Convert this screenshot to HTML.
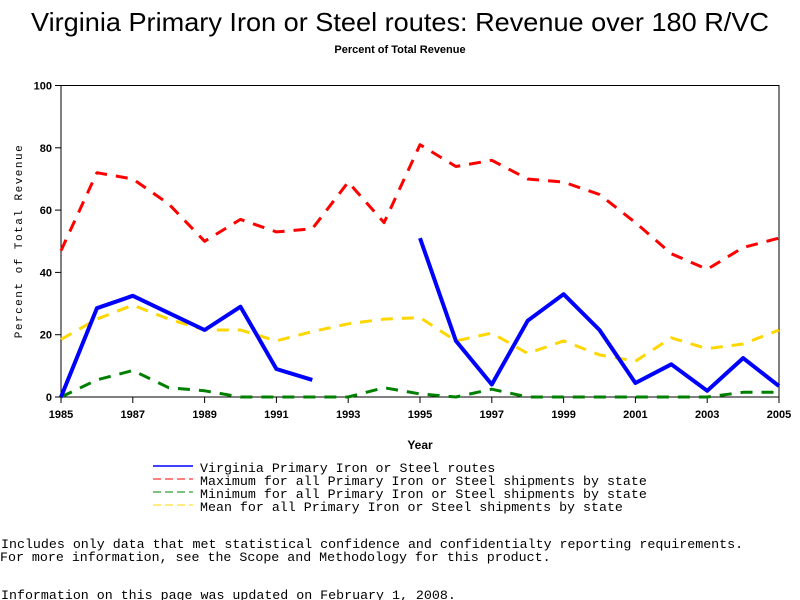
<!DOCTYPE html>
<html><head><meta charset="utf-8"><style>
body{margin:0;background:#fff;width:800px;height:600px;overflow:hidden}
svg{display:block}
text{font-family:"Liberation Sans",sans-serif}
.mono, .mono text, text.mono{font-family:"Liberation Mono",monospace}
</style></head><body>
<svg id="chart" width="800" height="600">
<text x="400" y="31" text-anchor="middle" font-size="26" textLength="738" lengthAdjust="spacingAndGlyphs">Virginia Primary Iron or Steel routes: Revenue over 180 R/VC</text>
<text x="400" y="53" text-anchor="middle" font-size="11" font-weight="bold">Percent of Total Revenue</text>
<rect x="61" y="85.5" width="718" height="311.5" fill="none" stroke="#000" stroke-width="1"/>
<g id="yticks"></g><g id="xticks"></g><g id="series"></g>
<text transform="translate(22,241) rotate(-90)" text-anchor="middle" font-size="11" class="mono" letter-spacing="1.5">Percent of Total Revenue</text>
<text x="420" y="449" text-anchor="middle" font-size="12" font-weight="bold">Year</text>
<g class="mono" font-size="13.3">
<g><line x1="153" y1="466" x2="193" y2="466" stroke="#0000ff" stroke-width="1.5"/><text x="200" y="472">Virginia Primary Iron or Steel routes</text></g>
<g><line x1="153" y1="479" x2="193" y2="479" stroke="#ff0000" stroke-width="1" stroke-dasharray="8,4"/><text x="200" y="485">Maximum for all Primary Iron or Steel shipments by state</text></g>
<g><line x1="153" y1="492" x2="193" y2="492" stroke="#008000" stroke-width="1" stroke-dasharray="8,4"/><text x="200" y="498">Minimum for all Primary Iron or Steel shipments by state</text></g>
<g><line x1="153" y1="505" x2="193" y2="505" stroke="#ffd700" stroke-width="1" stroke-dasharray="8,4"/><text x="200" y="511">Mean for all Primary Iron or Steel shipments by state</text></g>
</g>
<g class="mono" font-size="13.3">
<text x="1" y="548">Includes only data that met statistical confidence and confidentialty reporting requirements.</text>
<text x="0" y="561">For more information, see the Scope and Methodology for this product.</text>
<text x="1" y="599">Information on this page was updated on February 1, 2008.</text>
</g>
</svg>
<script>
const years = [1985,1986,1987,1988,1989,1990,1991,1992,1993,1994,1995,1996,1997,1998,1999,2000,2001,2002,2003,2004,2005];
const virginia = [0,28.5,32.5,27,21.5,29,9,5.5,null,null,51,18,4,24.5,33,21.5,4.5,10.5,2,12.5,3.5];
const maximum = [47,72,70,62,50,57,53,54,69,56,81,74,76,70,69,65,56,46,41,48,51];
const minimum = [0,5.5,8.5,3,2,0,0,0,0,3,1,0,2.5,0,0,0,0,0,0,1.5,1.5];
const mean = [18.5,25,29.5,25,21.5,21.5,18,21,23.5,25,25.5,18,20.5,14,18,13.5,11.5,19,15.5,17,21.5];
const yTickLabels = [0,20,40,60,80,100];
const xTickLabels = [1985,1987,1989,1991,1993,1995,1997,1999,2001,2003,2005];

const NS="http://www.w3.org/2000/svg";
const X0=61,X1=779,Y0=397,Y1=85.5;
const xs=y=>X0+(y-1985)/(2005-1985)*(X1-X0);
const ys=v=>Y0-v/100*(Y0-Y1);
function mk(tag,attrs,parent){const e=document.createElementNS(NS,tag);for(const k in attrs)e.setAttribute(k,attrs[k]);parent.appendChild(e);return e;}
const yt=document.getElementById('yticks');
yTickLabels.forEach(v=>{
  const l=mk('line',{x1:X0-6,x2:X0,y1:ys(v),y2:ys(v),stroke:'#000'},yt);
  
  
  const t=mk('text',{x:X0-9,y:ys(v)+4,'text-anchor':'end','font-size':'11','font-weight':'bold'},yt);
  t.textContent=v;
  
  
});
const xt=document.getElementById('xticks');
xTickLabels.forEach(v=>{
  const l=mk('line',{x1:xs(v),x2:xs(v),y1:Y0,y2:Y0+6,stroke:'#000'},xt);
  
  
  const t=mk('text',{x:xs(v),y:Y0+21,'text-anchor':'middle','font-size':'11','font-weight':'bold'},xt);
  t.textContent=v;
  
  
});
const sg=document.getElementById('series');
function draw(vals,color,w,dash,name){
  let segs=[],cur=[];
  vals.forEach((v,i)=>{if(v===null){if(cur.length)segs.push(cur);cur=[];}else cur.push(xs(years[i]).toFixed(1)+','+ys(v).toFixed(1));});
  if(cur.length)segs.push(cur);
  segs.forEach(s=>{
    const p=mk('polyline',{points:s.join(' '),fill:'none',stroke:color,'stroke-width':w,'stroke-linejoin':'round'},sg);
    if(dash)p.setAttribute('stroke-dasharray',dash);
    
    
  });
}
draw(mean,'#ffd700',3,'12,9','series-mean-line');
draw(minimum,'#008000',3,'12,9','series-minimum-line');
draw(maximum,'#ff0000',3,'12,9','series-maximum-line');
draw(virginia,'#0000ff',4,null,'series-virginia-line');
</script>
</body></html>
